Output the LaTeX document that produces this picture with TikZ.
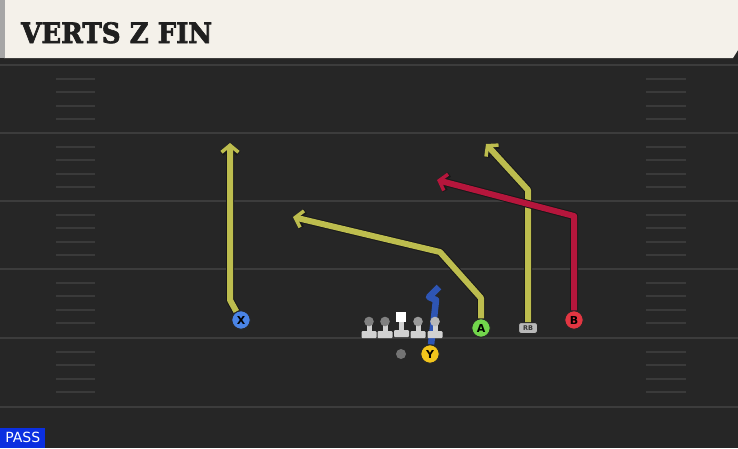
\documentclass[tikz,border=0pt]{standalone}
\usepackage{fontspec}
\setmainfont{DejaVu Sans}
\newfontfamily\titlefont{DejaVu Serif}[BoldFeatures={FakeBold=2.5}]
\usetikzlibrary{arrows.meta}
\definecolor{field}{HTML}{262626}
\definecolor{yardline}{HTML}{3C3C3C}
\definecolor{hashmark}{HTML}{3A3A3A}
\definecolor{header}{HTML}{F4F1EA}
\definecolor{olive}{HTML}{BDBD4E}
\definecolor{crimson}{HTML}{B5163C}
\definecolor{routeblue}{HTML}{2E55B4}
\definecolor{xblue}{HTML}{4A84E6}
\definecolor{agreen}{HTML}{72D64C}
\definecolor{bred}{HTML}{E23642}
\definecolor{yyellow}{HTML}{F2C51C}
\definecolor{passblue}{HTML}{0B2FE0}
\begin{document}
\begin{tikzpicture}[x=1pt,y=-1pt,
	player/.style={circle,minimum size=18.5pt,inner sep=0pt,draw=black!85,line width=1pt,font=\bfseries\fontsize{11}{11}\selectfont},
	route/.style={line width=6pt,line join=round,-{Straight Barb[length=7pt,width=17pt,line width=3.5pt]}},
	routeedge/.style={line width=8pt,black!90,line join=round,-{Straight Barb[length=7pt,width=17pt,line width=5.5pt]}},
	lmbody/.style={fill=black!18}]
		\useasboundingbox (0,0) rectangle (738,448);
		% field
		\fill[field] (0,0) rectangle (738,448);
		\fill[black!85] (0,56) rectangle (738,62);
		\foreach \y in {65,133,201,269,338,407}
			\draw[yardline,line width=2.5pt] (0,\y) -- (738,\y);
		\foreach \y in {65,133,201,269,338}
			\foreach \k in {1,2,3,4}{
				\draw[hashmark,line width=2pt] (56,\y+13.6*\k) -- (95,\y+13.6*\k);
				\draw[hashmark,line width=2pt] (646,\y+13.6*\k) -- (686,\y+13.6*\k);
			}
		% header
		\fill[header] (4,0) -- (738,0) -- (738,50) -- (733,58) -- (4,58) -- cycle;
		\fill[black!35] (0,0) rectangle (5,58);
		\node[anchor=base west,inner sep=0pt,xscale=0.93,font=\titlefont\bfseries\fontsize{28}{28}\selectfont,text=black!88] (title) at (21,43) {VERTS Z FIN};
		% players
		\node[player,fill=xblue] (X) at (241,320) {X};
		\node[player,fill=agreen] (A) at (481,328) {A};
		\node[player,fill=bred] (B) at (574,320) {B};
		\node[player,fill=yyellow] (Y) at (430,354) {Y};
		\node[rounded corners=2.5pt,fill=black!28,draw=black!85,line width=1pt,minimum width=19pt,minimum height=11pt,inner sep=0pt,font=\bfseries\fontsize{6.5}{6.5}\selectfont,text=black!80] (RB) at (528,328) {RB};
		\node[circle,fill=black!55,minimum size=10pt,inner sep=0pt] (QB) at (401,354) {};
		% routes
		\draw[routeedge] (X) -- (230,300) -- (230,143);
		\draw[route,olive] (X) -- (230,300) -- (230,143);
		\draw[routeedge] (A) -- (481,298) -- (440,252) -- (293,217);
		\draw[route,olive] (A) -- (481,298) -- (440,252) -- (293,217);
		\draw[routeedge] (RB) -- (528,190) -- (486,144);
		\draw[route,olive] (RB) -- (528,190) -- (486,144);
		\draw[routeedge] (B) -- (574,216) -- (437,180);
		\draw[route,crimson] (B) -- (574,216) -- (437,180);
		\draw[routeblue,line width=6.5pt,line join=round] (Y) -- (436,300) -- (429,297) -- (439,287);
		% line
		\foreach \x/\hd in {369/black!50,385/black!50,418/black!40,435/black!28}{
			\fill[lmbody] (\x-2.5,323) rectangle (\x+2.5,332);
			\fill[lmbody,rounded corners=1pt] (\x-7.5,331) rectangle (\x+7.5,338);
			\fill[\hd] (\x,321.5) circle (4.8pt);
		}
		\fill[lmbody] (398.5,320) rectangle (403.5,331);
		\fill[lmbody,rounded corners=1pt] (394,330) rectangle (409,337);
		\fill[white] (396,312) rectangle (406,322);
		% tag
		\node[fill=passblue,text=white,anchor=south west,minimum width=45pt,minimum height=20pt,inner sep=0pt,font=\fontsize{14}{14}\selectfont] (pass) at (0,448) {PASS};
	    \end{tikzpicture}
\end{document}
